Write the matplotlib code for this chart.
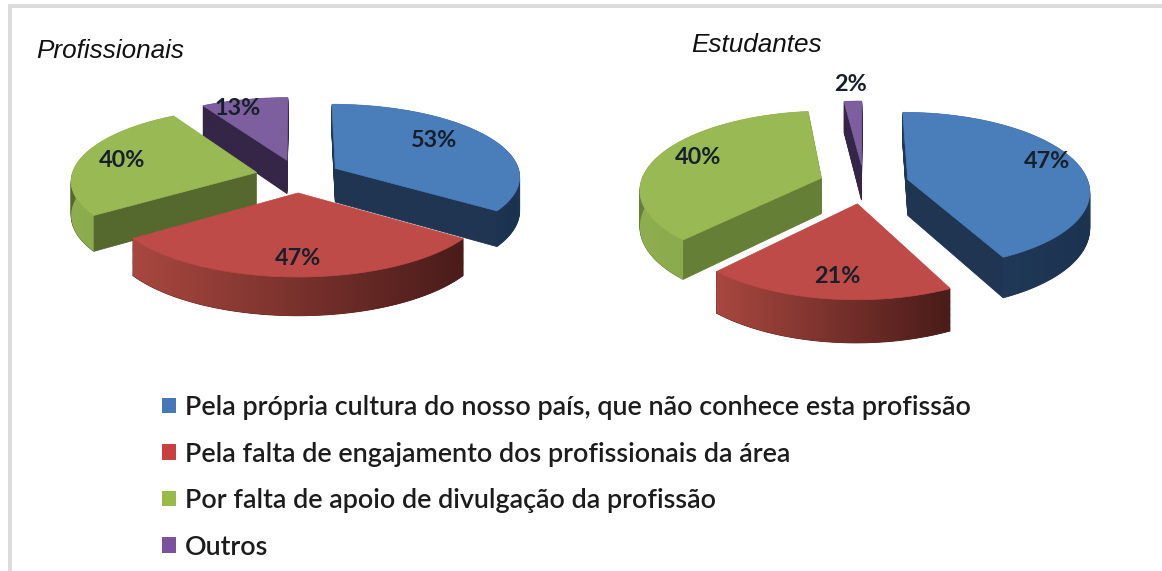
import numpy as np
import matplotlib
matplotlib.use("Agg")
import matplotlib.pyplot as plt
from matplotlib.path import Path
from matplotlib.patches import Patch, Rectangle
from matplotlib.transforms import Transform
from matplotlib.colors import LinearSegmentedColormap

# ---- data ----
legend_labels = ["Pela própria cultura do nosso país, que não conhece esta profissão",
                 "Pela falta de engajamento dos profissionais da área",
                 "Por falta de apoio de divulgação da profissão",
                 "Outros"]
prof_values = [53, 47, 40, 13]
est_values = [47, 21, 40, 2]
prof_title = "Profissionais"
est_title = "Estudantes"

# ---- styles ----
top_colors = ["#4a7ebb", "#be4b48", "#98b954", "#7d5fa0"]
legend_colors = ["#4678b8", "#c8403f", "#98bb48", "#7a52a0"]
cut_colors_l = ["#1f3552", "#5a2220", "#55692f", "#352546"]
cut_colors_r = ["#1f3552", "#5a2220", "#657f37", "#352546"]
side_stops = [("#24405f", "#1c3350"), ("#a8473f", "#4a1c1a"),
              ("#8fae50", "#7f9e42"), ("#352546", "#352546")]


class Tilt(Transform):
    """Project the flat pie disc on to a tilted plane in pixel space."""
    input_dims = output_dims = 2

    def __init__(self, cx, cy, rx, ry, k, kx, z=0.0):
        super().__init__()
        self.p = (cx, cy, rx, ry, k, kx, z)

    def transform_non_affine(self, v):
        v = np.asarray(v, float).reshape(-1, 2)
        cx, cy, rx, ry, k, kx, z = self.p
        s = 1 / (1 + k * v[:, 1])
        sx = 1 / (1 + kx * v[:, 1])
        return np.column_stack([cx + rx * v[:, 0] * sx, cy - ry * v[:, 1] * s + z * s])

    def transform_path_non_affine(self, path):
        pts = []
        t = np.linspace(0, 1, 24)
        for curve, code in path.iter_bezier():
            if code == Path.MOVETO:
                continue
            pts.append(curve(t))
        return Path(self.transform_non_affine(np.vstack(pts)))


fig = plt.figure(figsize=(11.62, 5.71), dpi=100, facecolor="white")
ax = fig.add_axes([0, 0, 1, 1])


def draw_pie(values, geom, depth, explode, cut_colors, label_pos):
    ex = [explode] * len(values)
    common = dict(explode=ex, startangle=90, counterclock=False, radius=1)
    for z in np.arange(depth, 0, -1.0):
        wedges, _ = ax.pie(values, colors=cut_colors,
                           wedgeprops=dict(linewidth=0.6, edgecolor="none"), **common)
        for w, c in zip(wedges, cut_colors):
            w.set_edgecolor(c)
            w.set_transform(Tilt(*geom, z=z) + ax.transData)
    ax.set_aspect("auto")
    ax.set_xlim(0, 1162)
    ax.set_ylim(571, 0)
    ax.set_autoscale_on(False)
    wedges, _ = ax.pie(values, colors=top_colors,
                       wedgeprops=dict(linewidth=0.5, edgecolor="none", zorder=5), **common)
    ax.set_aspect("auto")
    ax.set_xlim(0, 1162)
    ax.set_ylim(571, 0)
    ax.axis("off")
    top = Tilt(*geom, z=0)
    bot = Tilt(*geom, z=depth)
    for w, c, stops, val, (rad, turn) in zip(wedges, top_colors, side_stops, values, label_pos):
        w.set_edgecolor(c)
        w.set_transform(top + ax.transData)
        th = np.radians(np.linspace(w.theta1, w.theta2, 120))
        ring = np.column_stack([w.center[0] + np.cos(th), w.center[1] + np.sin(th)])
        a = top.transform_non_affine(ring)
        b = bot.transform_non_affine(ring)[::-1]
        band = np.vstack([a, b])
        cmap = LinearSegmentedColormap.from_list("s", list(stops))
        x0, x1 = band[:, 0].min(), band[:, 0].max()
        y0, y1 = band[:, 1].min(), band[:, 1].max()
        im = ax.imshow(np.linspace(0, 1, 64).reshape(1, -1), cmap=cmap, aspect="auto",
                       extent=(x0, x1, y1, y0), zorder=3, interpolation="bilinear")
        im.set_clip_path(Path(np.vstack([band, band[:1]])), transform=ax.transData)
        mid = np.radians((w.theta1 + w.theta2) / 2 + turn)
        lp = top.transform_non_affine([[w.center[0] + rad * np.cos(mid),
                                        w.center[1] + rad * np.sin(mid)]])[0]
        ax.text(lp[0], lp[1], f"{val}%", ha="center", va="center", zorder=6,
                family="Lato", weight="bold", fontsize=16.8, color="#17202a")


draw_pie(prof_values, (298, 176, 185, 72, 0.10, 0.10), 34, 0.23, cut_colors_l,
         [(0.71, 8.5), (0.80, 0), (0.765, 0), (0.87, 5)])
draw_pie(est_values, (864, 184, 181, 77.4, 0.133, 0.13), 36, 0.25, cut_colors_r,
         [(0.845, 4), (0.79, 1.4), (0.77, -3), (1.31, 0)])
ax.set_aspect("auto")
ax.set_xlim(0, 1162)
ax.set_ylim(571, 0)
ax.axis("off")

ax.text(36, 51, prof_title, style="italic", family="Liberation Sans", fontsize=18.8,
        ha="left", va="center", color="#111111")
ax.text(691, 45, est_title, style="italic", family="Liberation Sans", fontsize=18.8,
        ha="left", va="center", color="#111111")

# frame of the page
fig.add_artist(Rectangle((8 / 1162, 1 - 8 / 571), 1154 / 1162, 4 / 571, transform=fig.transFigure,
                         facecolor="#dcdcdc", edgecolor="none"))
fig.add_artist(Rectangle((8 / 1162, 0), 4 / 1162, 1 - 4 / 571, transform=fig.transFigure,
                         facecolor="#dcdcdc", edgecolor="none"))

handles = [Patch(facecolor=c, edgecolor="none") for c in legend_colors]
leg = ax.legend(handles, legend_labels, loc="upper left", bbox_to_anchor=(162 / 1162, 1 - 395 / 571),
                bbox_transform=fig.transFigure, frameon=False,
                handlelength=0.52, handleheight=0.52, handletextpad=0.33, labelspacing=0.80,
                borderpad=0, borderaxespad=0, labelcolor="#1c1c1c",
                prop=dict(family="Lato", weight="semibold", size=19.4))

fig.savefig("out.png", dpi=100, facecolor="white")
